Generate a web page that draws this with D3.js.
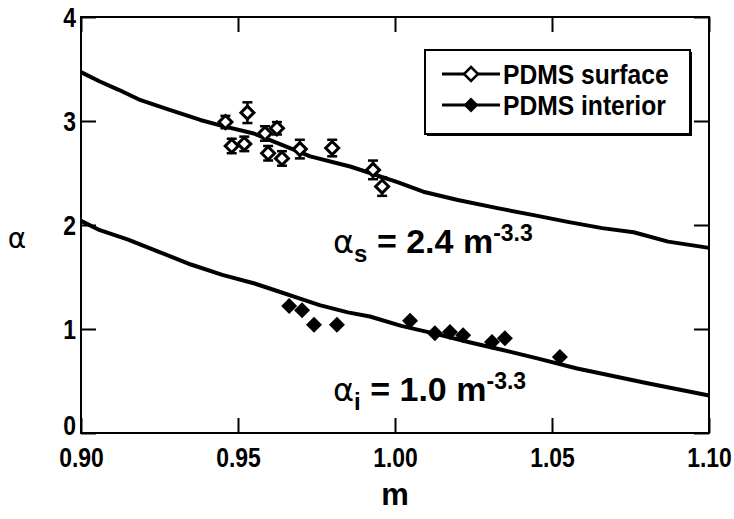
<!DOCTYPE html>
<html>
<head>
<meta charset="utf-8">
<script src="https://cdn.jsdelivr.net/npm/d3@7"></script>
<style>
  html, body { margin: 0; padding: 0; background: #fff; }
  svg { display: block; }
  .lbl { font-family: "Liberation Sans", Arial, Helvetica, sans-serif; font-weight: bold; fill: #000; }
</style>
</head>
<body>
<div id="chart"></div>
<script>
// surface data (open diamonds, with error bars)
const surfM   = [0.946, 0.948, 0.952, 0.953, 0.9586, 0.9624, 0.9596, 0.964, 0.9697, 0.980, 0.993, 0.9959];
const surfA   = [2.99, 2.76, 2.78, 3.08, 2.88, 2.93, 2.69, 2.64, 2.73, 2.74, 2.53, 2.37];
const surfErr = [0.05, 0.06, 0.06, 0.09, 0.06, 0.05, 0.06, 0.06, 0.08, 0.07, 0.08, 0.08];

// interior data (filled diamonds)
const intM = [0.9663, 0.9704, 0.9742, 0.9815, 1.0048, 1.0127, 1.0175, 1.0217, 1.0309, 1.0350, 1.0525];
const intA = [1.22, 1.18, 1.04, 1.04, 1.08, 0.96, 0.97, 0.94, 0.875, 0.91, 0.73];

// fitted curves
const fitSM = [0.900, 0.906, 0.912, 0.919, 0.928, 0.938, 0.944, 0.955, 0.964, 0.973, 0.986, 1.001, 1.009, 1.020, 1.033, 1.045, 1.055, 1.066, 1.076, 1.087, 1.100];
const fitSA = [3.47, 3.38, 3.30, 3.20, 3.11, 3.01, 2.96, 2.88, 2.77, 2.66, 2.56, 2.41, 2.32, 2.24, 2.16, 2.09, 2.03, 1.97, 1.93, 1.84, 1.78];
const fitIM = [0.900, 0.906, 0.915, 0.925, 0.935, 0.945, 0.955, 0.962, 0.970, 0.976, 0.985, 0.992, 1.002, 1.012, 1.024, 1.034, 1.045, 1.058, 1.066, 1.080, 1.090, 1.100];
const fitIA = [2.04, 1.95, 1.86, 1.74, 1.62, 1.52, 1.44, 1.37, 1.29, 1.23, 1.16, 1.12, 1.03, 0.96, 0.87, 0.80, 0.72, 0.62, 0.57, 0.48, 0.42, 0.36];

const xTicks = [0.90, 0.95, 1.00, 1.05, 1.10];
const yTicks = [0, 1, 2, 3, 4];
const legendLabels = ["PDMS surface", "PDMS interior"];

const width = 734, height = 519;
const margin = {top: 17, right: 25, bottom: 86, left: 81};
const squeeze = 0.85; // the original type is a condensed bold sans

const svg = d3.select("#chart").append("svg")
  .attr("width", width).attr("height", height);

const x = d3.scaleLinear().domain([0.9, 1.1]).range([margin.left, width - margin.right]);
const y = d3.scaleLinear().domain([0, 4]).range([height - margin.bottom, margin.top]);

const x0 = x.range()[0], x1 = x.range()[1], y0 = y.range()[0], y1 = y.range()[1];

// axes with inward ticks
const gBottom = svg.append("g").attr("transform", `translate(0,${y0})`)
  .call(d3.axisBottom(x).tickValues(xTicks).tickSize(-15).tickPadding(6).tickFormat(d3.format(".2f")));
const gTop = svg.append("g").attr("transform", `translate(0,${y1})`)
  .call(d3.axisTop(x).tickValues(xTicks).tickSize(-15).tickFormat(""));
const gLeft = svg.append("g").attr("transform", `translate(${x0},0)`)
  .call(d3.axisLeft(y).tickValues(yTicks).tickSize(-15).tickPadding(6).tickFormat(d3.format("d")));
const gRight = svg.append("g").attr("transform", `translate(${x1},0)`)
  .call(d3.axisRight(y).tickValues(yTicks).tickSize(-15).tickFormat(""));

[gBottom, gTop, gLeft, gRight].forEach(g => {
  g.select(".domain").remove();
  g.selectAll(".tick line").attr("stroke", "#000").attr("stroke-width", 2);
  g.selectAll("text").attr("class", "lbl").style("font-size", "27px").attr("fill", "#000")
    .attr("transform", `scale(${squeeze},1)`);
});
gBottom.selectAll("text").attr("dy", "1.04em");
gLeft.selectAll("text").attr("dy", "0.35em");
gLeft.selectAll(".tick").filter(d => d === 0).select("text").attr("dy", "0.05em");

svg.append("rect")
  .attr("x", x0).attr("y", y1).attr("width", x1 - x0).attr("height", y0 - y1)
  .attr("fill", "none").attr("stroke", "#000").attr("stroke-width", 2);

// axis titles
svg.append("text").attr("class", "lbl")
  .attr("x", (x0 + x1) / 2).attr("y", 505).attr("text-anchor", "middle")
  .style("font-size", "31px").text("m");
svg.append("text")
  .attr("x", 17).attr("y", 248).attr("text-anchor", "middle")
  .style("font-family", "'DejaVu Sans', sans-serif").style("font-size", "28px")
  .text("α");

// fit curves
const line = d3.line().x(d => x(d[0])).y(d => y(d[1])).curve(d3.curveLinear);
svg.append("path").datum(d3.zip(fitSM, fitSA))
  .attr("d", line).attr("fill", "none").attr("stroke", "#000").attr("stroke-width", 4)
  .attr("stroke-linejoin", "round");
svg.append("path").datum(d3.zip(fitIM, fitIA))
  .attr("d", line).attr("fill", "none").attr("stroke", "#000").attr("stroke-width", 4)
  .attr("stroke-linejoin", "round");

// diamond marker path, r = half diagonal
const diamond = r => `M0,${-r}L${r},0L0,${r}L${-r},0Z`;

// surface: error bars + open diamonds
const surf = d3.zip(surfM, surfA, surfErr);
const eb = svg.append("g").attr("stroke", "#000").attr("stroke-width", 2.5);
surf.forEach(([m, a, e]) => {
  eb.append("line").attr("x1", x(m)).attr("x2", x(m)).attr("y1", y(a + e) - 1).attr("y2", y(a - e) + 1);
  eb.append("line").attr("x1", x(m) - 5).attr("x2", x(m) + 5).attr("y1", y(a + e) - 1).attr("y2", y(a + e) - 1);
  eb.append("line").attr("x1", x(m) - 5).attr("x2", x(m) + 5).attr("y1", y(a - e) + 1).attr("y2", y(a - e) + 1);
});
svg.append("g").selectAll("path").data(surf).join("path")
  .attr("transform", d => `translate(${x(d[0])},${y(d[1])})`)
  .attr("d", diamond(6.5)).attr("fill", "#fff").attr("stroke", "#000").attr("stroke-width", 3);

// interior: filled diamonds
svg.append("g").selectAll("path").data(d3.zip(intM, intA)).join("path")
  .attr("transform", d => `translate(${x(d[0])},${y(d[1])})`)
  .attr("d", diamond(8)).attr("fill", "#000");

// legend
const lg = svg.append("g").attr("transform", "translate(425,50)");
lg.append("rect").attr("x", 2).attr("y", 2).attr("width", 265).attr("height", 84).attr("fill", "#000");
lg.append("rect").attr("width", 265).attr("height", 84).attr("fill", "#fff").attr("stroke", "#000").attr("stroke-width", 2);
legendLabels.forEach((t, i) => {
  const cy = 24 + i * 31;
  lg.append("line").attr("x1", 17).attr("x2", 75).attr("y1", cy).attr("y2", cy)
    .attr("stroke", "#000").attr("stroke-width", 3);
  const mk = lg.append("path").attr("transform", `translate(46,${cy})`);
  if (i === 0) mk.attr("d", diamond(7)).attr("fill", "#fff").attr("stroke", "#000").attr("stroke-width", 2.5);
  else mk.attr("d", diamond(7.5)).attr("fill", "#000");
  lg.append("g").attr("transform", `translate(78,${cy})`)
    .append("text").attr("class", "lbl").attr("dy", "0.36em")
    .attr("transform", "scale(0.88,1)")
    .style("font-size", "28px").text(t);
});

// fit annotations
function annot(xp, yp, sub, coef) {
  const t = svg.append("text").attr("class", "lbl").attr("x", xp).attr("y", yp);
  t.append("tspan").style("font-family", "'DejaVu Sans', sans-serif")
    .style("font-weight", "normal").style("font-size", "32px").text("α");
  t.append("tspan").attr("dy", 9).style("font-size", "24px").text(sub);
  t.append("tspan").attr("dy", -9).style("font-size", "34px").text(" = " + coef + " m");
  t.append("tspan").attr("dy", -12).style("font-size", "23px").text("-3.3");
}
annot(333, 253, "s", "2.4");
annot(333, 401, "i", "1.0");
</script>
</body>
</html>
